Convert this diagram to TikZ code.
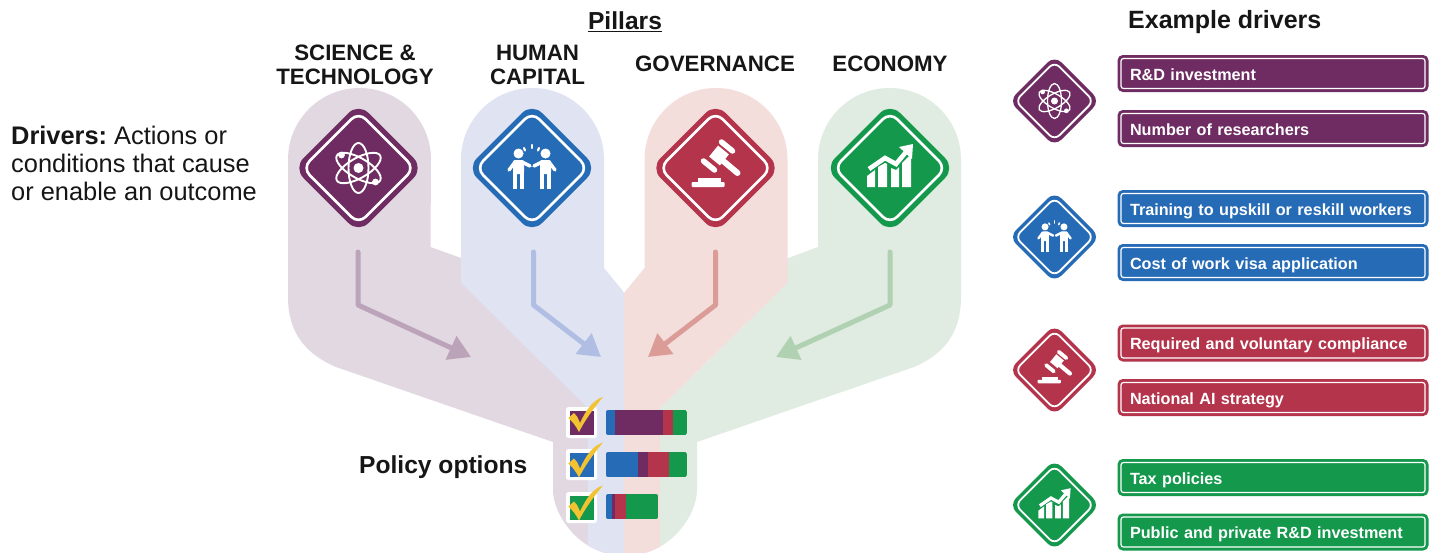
\documentclass[tikz,border=0pt]{standalone}
\usepackage{fontspec}
\setmainfont{Liberation Sans}
\usetikzlibrary{arrows.meta}
\definecolor{cpur}{HTML}{6E2C62}
\definecolor{cblu}{HTML}{266BB5}
\definecolor{cred}{HTML}{B3344B}
\definecolor{cgrn}{HTML}{14984C}
\definecolor{bpur}{HTML}{E2D8E2}
\definecolor{bblu}{HTML}{DFE3F2}
\definecolor{bred}{HTML}{F3DEDB}
\definecolor{bgrn}{HTML}{E0ECE1}
\definecolor{apur}{HTML}{BBA3BA}
\definecolor{ablu}{HTML}{AFBEE2}
\definecolor{ared}{HTML}{DB9C97}
\definecolor{agrn}{HTML}{B0D1B2}
\definecolor{cyel}{HTML}{F2C230}
\definecolor{ctxt}{HTML}{161616}
\newcommand\fsz[1]{\fontsize{#1}{#1}\selectfont}
\newcommand\dlab[1]{\raisebox{-6.5pt}[0pt][0pt]{#1}}
\tikzset{
  x=1pt,y=-1pt,
  headtext/.style={text=ctxt,font=\bfseries\fsz{22.3},align=center,inner sep=0pt},
  bigtext/.style={text=ctxt,font=\bfseries\fsz{24.6},inner sep=0pt},
  pointer/.style={line width=5pt,-{Triangle[length=22pt,width=25pt]},line join=round,line cap=round},
  drvbox/.style={draw=white,line width=1.2pt,fill=#1,rounded corners=2.5pt,
    minimum height=30pt,text width=286pt,inner xsep=9pt,inner ysep=0pt,align=left,
    text=white,font=\bfseries\fsz{16.2},
    preaction={draw=#1,line width=7pt,rounded corners=2.5pt}},
  tick/.style={fill=cyel,draw=none},
}
\newcommand\iconatom{%
  \begin{scope}[draw=white,line width=\iconS*1.9pt,fill=none]
    \draw[rotate=30] (0,0) ellipse[x radius=25,y radius=10];
    \draw[rotate=-30] (0,0) ellipse[x radius=25,y radius=10];
    \draw[rotate=90] (0,0) ellipse[x radius=25,y radius=10];
  \end{scope}
  \fill[white] (0,0) circle[radius=5];
  \fill[white] (-17,-13) circle[radius=3.4];
  \fill[white] (17,14) circle[radius=3.4];
}
\newcommand\iconpeople{%
  \fill[white] (-13.5,-14.5) circle[radius=5];
  \fill[white] (13.5,-14.5) circle[radius=5];
  \fill[white,rounded corners=\iconS*2pt] (-19,-8) -- (-8,-8) -- (-8,6) -- (-19,6) -- cycle;
  \fill[white,rounded corners=\iconS*2pt] (19,-8) -- (8,-8) -- (8,6) -- (19,6) -- cycle;
  \begin{scope}[draw=white,line cap=round,line width=\iconS*3.4pt]
    \draw (-17,-6) -- (-23,2);
    \draw (17,-6) -- (23,2);
    \draw (-10,-6) -- (-2,-2);
    \draw (10,-6) -- (2,-2);
  \end{scope}
  \begin{scope}[draw=white,line cap=butt,line width=\iconS*4.4pt]
    \draw (-16.8,4) -- (-16.8,21);
    \draw (-10.2,4) -- (-10.2,21);
    \draw (16.8,4) -- (16.8,21);
    \draw (10.2,4) -- (10.2,21);
  \end{scope}
  \begin{scope}[draw=white,line cap=round,line width=\iconS*2.2pt]
    \draw (-8,-20) -- (-7,-17.5);
    \draw (0,-23) -- (0,-20);
    \draw (7,-20) -- (6,-17.5);
  \end{scope}
}
\newcommand\icongavel{%
  \begin{scope}[draw=white,line cap=round]
    \draw[line width=\iconS*6pt] (3,-11) -- (22,5);
    \draw[line width=\iconS*5.5pt] (6,-26) -- (17,-17);
    \draw[line width=\iconS*5.5pt] (-12,-7) -- (-1,2);
    \draw[line cap=butt,line width=\iconS*14pt] (8,-18) -- (-1,-7);
  \end{scope}
  \fill[white] (-18,10) rectangle (5,14.5);
  \fill[white,rounded corners=\iconS*1pt] (-24,14) rectangle (9,19);
}
\newcommand\iconchart{%
  \fill[white] (-23,19) -- (-23,8) -- (-15,2) -- (-15,19) -- cycle;
  \fill[white] (-12,19) -- (-12,-1) -- (-5,-5) -- (-3,-4) -- (-3,19) -- cycle;
  \fill[white] (1,19) -- (1,0) -- (6,2) -- (9,-1) -- (9,19) -- cycle;
  \fill[white] (12,19) -- (12,-5) -- (21,-14) -- (21,19) -- cycle;
  \draw[white,line width=\iconS*4.6pt,line join=miter] (-21,1) -- (-5,-10) -- (6,-4) -- (16,-16);
  \fill[white] (9,-21) -- (23,-24) -- (22,-9) -- cycle;
}
\newcommand\signdia[6]{%
  \begin{scope}[shift={(#2,#3)},scale=#5]
    \def\iconS{#5}%
    \coordinate (#1) at (0,0);
    \fill[#4,rounded corners=#5*14pt] (0,-65) -- (65,0) -- (0,65) -- (-65,0) -- cycle;
    \draw[white,line width=#5*2.6pt,rounded corners=#5*10pt] (0,-56) -- (56,0) -- (0,56) -- (-56,0) -- cycle;
    #6
  \end{scope}%
}
\newcommand\optcheck[3]{%
  \fill[white,rounded corners=2.5pt] (566,#2) rectangle (597,#2+31);
  \fill[#3] (569.5,#2+3.5) rectangle (594,#2+27.5);
  \begin{scope}[yshift=-#1pt]
    \path[tick] (568.3,418) -- (574,413) .. controls (577,416) .. (580,423)
      .. controls (586,410) and (593,400) .. (603,397)
      .. controls (597,404) and (586,418) .. (579,432)
      .. controls (576,426) and (572,421) .. (568.3,418) -- cycle;
  \end{scope}%
}
\newcommand\optbar[5]{%
  \begin{scope}
    \clip[rounded corners=2pt] (606,#1) rectangle (#2,#1+25);
    \fill[cblu] (606,#1) rectangle (#3,#1+25);
    \fill[cpur] (#3,#1) rectangle (#4,#1+25);
    \fill[cred] (#4,#1) rectangle (#5,#1+25);
    \fill[cgrn] (#5,#1) rectangle (#2,#1+25);
  \end{scope}%
}
\begin{document}
\begin{tikzpicture}
\useasboundingbox (0,0) rectangle (1440,552);
\fill[white] (0,0) rectangle (1440,552);
\begin{scope}
  \clip (0,0) -- (1440,0) -- (1440,490) -- (697,490)
     .. controls (697,515) and (670,556) .. (625,556)
     .. controls (580,556) and (553,515) .. (553,490) -- (0,490) -- cycle;
  \fill[bpur] (288,159.5) arc[start angle=180,end angle=360,radius=71.5]
    -- (430.5,247) -- (475,263) -- (500,320) -- (590,410) -- (590,560) -- (553,560) -- (553,442)
    -- (336,367) .. controls (308,355) and (288,335) .. (288,297) -- cycle;
  \fill[bgrn] (961,159.5) arc[start angle=360,end angle=180,radius=71.5]
    -- (818,247) -- (775,263) -- (750,320) -- (658,410) -- (658,560) -- (697,560) -- (697,442)
    -- (914,367) .. controls (942,355) and (961,335) .. (961,297) -- cycle;
  \fill[bblu] (461,159.5) arc[start angle=180,end angle=360,radius=71.5]
    -- (604,268) -- (624.5,293) -- (624.5,560) -- (588,560) -- (588,408) -- (461,283) -- cycle;
  \fill[bred] (787.5,159.5) arc[start angle=360,end angle=180,radius=71.5]
    -- (644.5,268) -- (624,293) -- (624,560) -- (660,560) -- (660,408) -- (787.5,283) -- cycle;
\end{scope}
\signdia{sciS}{358.5}{168}{cpur}{1}{\iconatom}
\signdia{humS}{532}{168}{cblu}{1}{\iconpeople}
\signdia{govS}{715.5}{168}{cred}{1}{\icongavel}
\signdia{ecoS}{890}{168}{cgrn}{1}{\iconchart}
\coordinate (a1s) at (358,252); \coordinate (a1b) at (358,305); \coordinate (a1e) at (471,357);
\coordinate (a2s) at (533.5,252); \coordinate (a2b) at (533.5,305); \coordinate (a2e) at (601,357);
\coordinate (a3s) at (715.5,252); \coordinate (a3b) at (715.5,305); \coordinate (a3e) at (648,357);
\coordinate (a4s) at (890,252); \coordinate (a4b) at (890,305); \coordinate (a4e) at (776,357);
\draw[pointer,apur] (a1s) -- (a1b) -- (a1e);
\draw[pointer,ablu] (a2s) -- (a2b) -- (a2e);
\draw[pointer,ared] (a3s) -- (a3b) -- (a3e);
\draw[pointer,agrn] (a4s) -- (a4b) -- (a4e);
\optbar{410}{687}{615}{663}{673}
\optbar{452}{687}{638}{648}{669}
\optbar{494}{658}{612}{615}{626}
\optcheck{0}{407}{cpur}
\optcheck{45.5}{449}{cblu}
\optcheck{88.5}{492}{cgrn}
\node[bigtext,anchor=west] (policy) at (359,467) {Policy options};
\node[bigtext] (pillars) at (625,21.5) {\underline{Pillars}};
\node[bigtext,anchor=west,font=\bfseries\fsz{25}] (example) at (1128,22) {Example drivers};
\node[headtext] (sci) at (355,65) {SCIENCE \&\\[2pt]TECHNOLOGY};
\node[headtext] (hum) at (537.5,65) {HUMAN\\[2pt]CAPITAL};
\node[headtext] (gov) at (715,64) {GOVERNANCE};
\node[headtext] (eco) at (890,64) {ECONOMY};
\node[text=ctxt,anchor=west,inner sep=0pt,align=left,font=\fsz{25.4}] (drivers) at (11,163.5)
  {\textbf{Drivers:}\hspace{-2.5pt} Actions or\\[3pt]conditions that cause\\[3pt]or enable an outcome};
\signdia{sciM}{1054.5}{101}{cpur}{0.7}{\iconatom}
\signdia{humM}{1054.5}{237}{cblu}{0.7}{\iconpeople}
\signdia{govM}{1054.5}{370}{cred}{0.7}{\icongavel}
\signdia{ecoM}{1054.5}{505}{cgrn}{0.7}{\iconchart}
\node[drvbox=cpur] (b1) at (1273,73.5) {\dlab{R\&D investment}};
\node[drvbox=cpur] (b2) at (1273,128.5) {\dlab{Number of researchers}};
\node[drvbox=cblu] (b3) at (1273,208.5) {\dlab{Training to upskill or reskill workers}};
\node[drvbox=cblu] (b4) at (1273,262.5) {\dlab{Cost of work visa application}};
\node[drvbox=cred] (b5) at (1273,343) {\dlab{Required and voluntary compliance}};
\node[drvbox=cred] (b6) at (1273,397.5) {\dlab{National AI strategy}};
\node[drvbox=cgrn] (b7) at (1273,477.5) {\dlab{Tax policies}};
\node[drvbox=cgrn] (b8) at (1273,532) {\dlab{Public and private R\&D investment}};
\end{tikzpicture}
\end{document}
